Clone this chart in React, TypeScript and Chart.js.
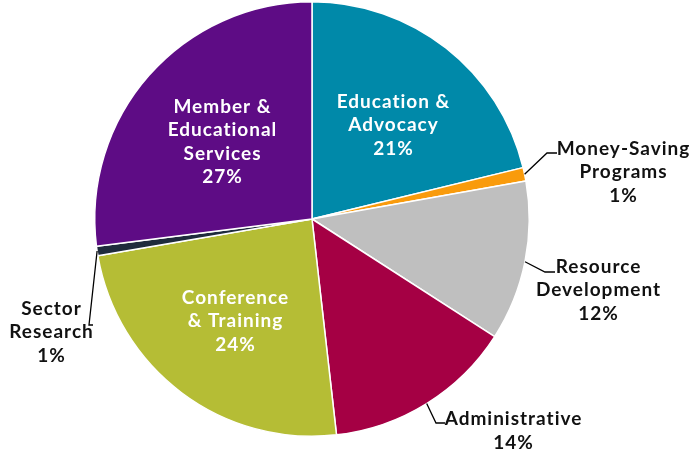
import React, { useEffect, useRef } from "react";
import { Chart, registerables } from "chart.js";

Chart.register(...registerables);

const categories = [
  "Education & Advocacy",
  "Money-Saving Programs",
  "Resource Development",
  "Administrative",
  "Conference & Training",
  "Sector Research",
  "Member & Educational Services",
];

const shares = [21.2, 1.0, 11.9, 14.1, 24.1, 0.7, 27.0];

const labelLines = [
  ["Education &", "Advocacy"],
  ["Money-Saving", "Programs"],
  ["Resource", "Development"],
  ["Administrative"],
  ["Conference", "& Training"],
  ["Sector", "Research"],
  ["Member &", "Educational", "Services"],
];

const sliceColors = [
  "#0089A9",
  "#F99B0C",
  "#BFBFBF",
  "#A50044",
  "#B5BD35",
  "#1F2B3C",
  "#5E0C85",
];

// label layout relative to pie centre (px)
type Layout = {
  inside: boolean;
  tx: number;
  ty: number;
  elbow?: [number, number];
  end?: [number, number];
};

const layouts: Layout[] = [
  { inside: true, tx: 81, ty: -94 },
  { inside: false, tx: 311, ty: -47, elbow: [235, -66], end: [245, -66] },
  { inside: false, tx: 286, ty: 71, elbow: [233, 53], end: [243, 53] },
  { inside: false, tx: 201, ty: 212, elbow: [124, 204], end: [133, 204] },
  { inside: true, tx: -77, ty: 102 },
  { inside: false, tx: -261, ty: 113, elbow: [-223, 106], end: [-219, 106] },
  { inside: true, tx: -90, ty: -77 },
];

const labelPlugin = {
  id: "sliceLabels",
  afterDatasetsDraw(chart: any) {
    const ctx = chart.ctx as CanvasRenderingContext2D;
    const meta = chart.getDatasetMeta(0);
    const lineH = 23.5;
    ctx.save();
    ctx.font = "bold 19px Lato";
    (ctx as any).letterSpacing = "1px";
    ctx.textAlign = "center";
    ctx.textBaseline = "middle";
    meta.data.forEach((arc: any, i: number) => {
      const cx = arc.x;
      const cy = arc.y;
      const lay = layouts[i];
      const lines = [...labelLines[i], Math.round(shares[i]) + "%"];
      if (!lay.inside && lay.elbow && lay.end) {
        const mid = (arc.startAngle + arc.endAngle) / 2;
        const r = arc.outerRadius;
        const sx = cx + Math.cos(mid) * r;
        const sy = cy + Math.sin(mid) * r;
        ctx.strokeStyle = "#000000";
        ctx.lineWidth = 1.3;
        ctx.beginPath();
        ctx.moveTo(sx, sy);
        ctx.lineTo(cx + lay.elbow[0], cy + lay.elbow[1]);
        ctx.lineTo(cx + lay.end[0], cy + lay.end[1]);
        ctx.stroke();
      }
      ctx.fillStyle = lay.inside ? "#FFFFFF" : "#111111";
      const top = cy + lay.ty - ((lines.length - 1) * lineH) / 2;
      lines.forEach((t, k) => {
        ctx.fillText(t, cx + lay.tx + 0.5, top + k * lineH);
      });
    });
    ctx.restore();
  },
};

export default function App() {
  const ref = useRef<HTMLCanvasElement | null>(null);
  useEffect(() => {
    if (!ref.current) return;
    const chart = new Chart(ref.current, {
      type: "pie",
      data: {
        labels: categories,
        datasets: [
          {
            data: shares,
            backgroundColor: sliceColors,
            borderColor: "#FFFFFF",
            borderWidth: 1.5,
          },
        ],
      },
      options: {
        animation: false,
        responsive: false,
        devicePixelRatio: 1,
        layout: { padding: { left: 94, right: 161, top: 1, bottom: 17 } },
        plugins: {
          legend: { display: false },
          tooltip: { enabled: false },
        },
      },
      plugins: [labelPlugin],
    });
    return () => chart.destroy();
  }, []);
  return (
    <div style={{ position: "fixed", left: 0, top: 0, width: 691, height: 454, background: "#fff" }}>
      <canvas ref={ref} width={691} height={454} style={{ width: 691, height: 454 }} />
    </div>
  );
}
